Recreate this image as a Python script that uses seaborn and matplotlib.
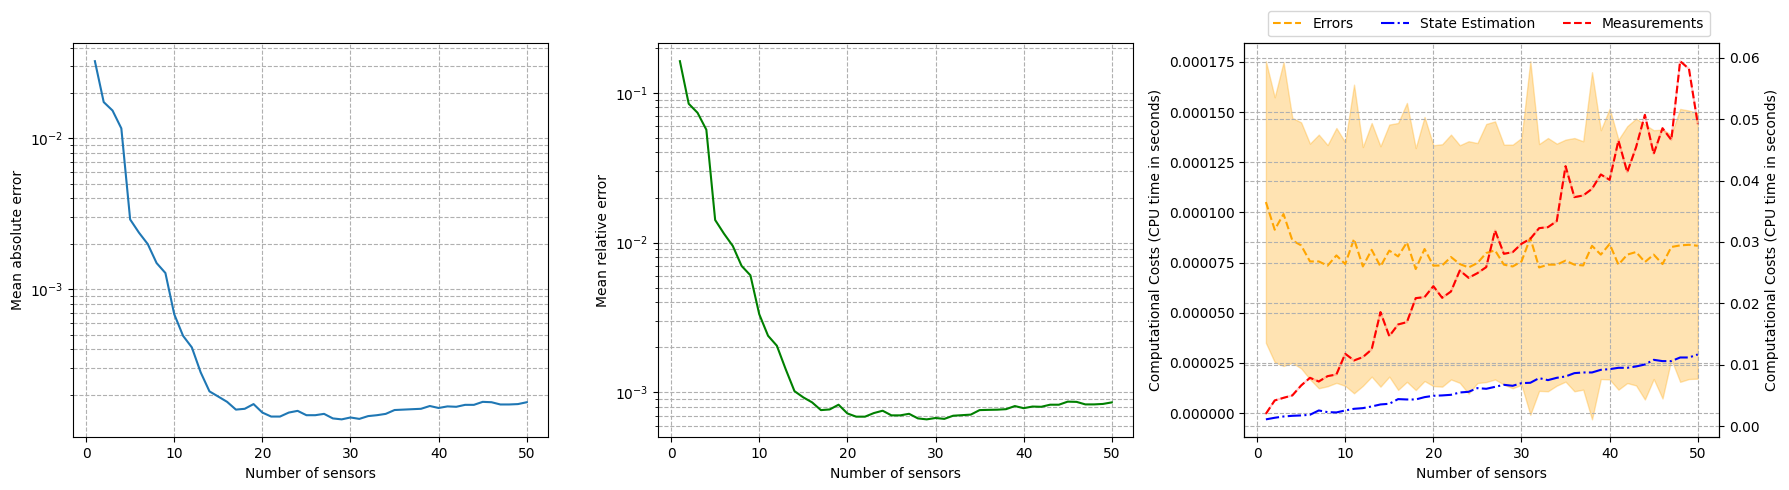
import numpy as np
import matplotlib
matplotlib.use("Agg")
import matplotlib.pyplot as plt
import seaborn as sns

# number of sensors on the x axis
sensors = np.arange(1, 51)

mean_abs_error = [0.0325, 0.0174, 0.0153, 0.01165, 0.0029, 0.00237, 0.00199, 0.00149, 0.00128, 0.000683,
                  0.000491, 0.000411, 0.000281, 0.00021, 0.000194, 0.000179, 0.000159, 0.000161, 0.000173, 0.000152,
                  0.000143, 0.000143, 0.000152, 0.000156, 0.000146, 0.000146, 0.000149, 0.000139, 0.000137, 0.000141,
                  0.000138, 0.000144, 0.000146, 0.000149, 0.000158, 0.000159, 0.00016, 0.000161, 0.000168, 0.000163,
                  0.000167, 0.000166, 0.000171, 0.000171, 0.000179, 0.000178, 0.000172, 0.000172, 0.000173, 0.000178]

mean_rel_error = [0.1626, 0.0845, 0.0736, 0.0567, 0.01416, 0.01148, 0.0095, 0.00699, 0.00605, 0.00333,
                  0.00239, 0.00205, 0.00143, 0.00102, 0.000927, 0.000858, 0.000762, 0.00077, 0.000828, 0.000724,
                  0.000689, 0.000689, 0.000728, 0.000755, 0.000703, 0.000703, 0.00072, 0.000671, 0.000661, 0.000675,
                  0.000666, 0.000699, 0.000705, 0.000711, 0.000762, 0.000765, 0.000767, 0.000773, 0.000811, 0.000785,
                  0.000805, 0.000802, 0.000828, 0.000828, 0.000868, 0.000865, 0.000832, 0.000832, 0.000838, 0.000858]

# CPU time for the error computation (mean and std, in 1e-5 s)
errors_mean = [10.52, 9.14, 9.92, 8.61, 8.36, 7.56, 7.56, 7.35, 7.86, 7.43,
               8.68, 7.31, 8.14, 7.31, 8.10, 7.81, 8.51, 7.18, 8.18, 7.35,
               7.36, 7.78, 7.43, 7.26, 7.48, 7.98, 8.11, 7.40, 7.31, 7.56,
               8.73, 7.26, 7.40, 7.40, 7.60, 7.40, 7.36, 8.34, 7.90, 8.43,
               7.40, 7.90, 8.03, 7.53, 7.90, 7.43, 8.28, 8.36, 8.39, 8.34]
errors_std = [7.02, 6.60, 7.57, 6.10, 6.13, 5.87, 6.32, 6.01, 6.35, 6.07,
              7.69, 5.95, 6.32, 5.99, 6.28, 6.65, 6.95, 6.03, 6.58, 6.00,
              6.04, 6.10, 5.92, 6.29, 5.98, 6.43, 6.43, 5.98, 6.07, 6.15,
              8.81, 6.15, 6.31, 6.03, 6.03, 6.31, 6.19, 8.65, 6.20, 6.75,
              6.23, 6.40, 6.65, 6.85, 6.20, 6.70, 5.60, 6.80, 6.69, 6.62]

state_estimation = [0.0011, 0.00136, 0.00157, 0.00168, 0.00174, 0.00185, 0.00255, 0.00228, 0.00223, 0.00255,
                    0.00282, 0.00293, 0.0032, 0.00353, 0.00364, 0.0044, 0.00434, 0.00434, 0.00472, 0.00494,
                    0.005, 0.0051, 0.00548, 0.00559, 0.00619, 0.00608, 0.0064, 0.00673, 0.00657, 0.007,
                    0.00706, 0.00782, 0.00749, 0.00787, 0.00809, 0.00863, 0.00874, 0.00874, 0.00917, 0.00928,
                    0.0095, 0.0095, 0.00972, 0.01004, 0.0108, 0.01059, 0.01059, 0.01118, 0.01118, 0.01167]

measurements = [0.00201, 0.00418, 0.00461, 0.005, 0.00662, 0.00787, 0.00727, 0.00814, 0.00841, 0.01178,
                0.0107, 0.01124, 0.01249, 0.01857, 0.01466, 0.01656, 0.01694, 0.02085, 0.02101, 0.0228,
                0.0209, 0.02193, 0.02535, 0.02416, 0.02492, 0.0259, 0.03187, 0.02807, 0.02834, 0.0297,
                0.03051, 0.03225, 0.03241, 0.03339, 0.04235, 0.0373, 0.03757, 0.03865, 0.04099, 0.04012,
                0.04653, 0.04137, 0.04544, 0.05071, 0.04435, 0.04853, 0.04663, 0.05945, 0.0582, 0.04924]

err_mean = np.array(errors_mean) * 1e-5
err_std = np.array(errors_std) * 1e-5

fig = plt.figure(figsize=(17.9, 4.9), dpi=100)
ax_abs = fig.add_axes([0.04095, 0.1076, 0.2654, 0.8041])
ax_rel = fig.add_axes([0.36777, 0.1076, 0.2654, 0.8041])
ax_cpu = fig.add_axes([0.69514, 0.1076, 0.2654, 0.8041])

# Mean absolute error
sns.lineplot(x=sensors, y=mean_abs_error, ax=ax_abs, color="tab:blue")
ax_abs.set_yscale("log")
ax_abs.grid(True, which="both", linestyle="--")
ax_abs.set_xlabel("Number of sensors")
ax_abs.set_ylabel("Mean absolute error")

# Mean relative error
sns.lineplot(x=sensors, y=mean_rel_error, ax=ax_rel, color="green")
ax_rel.set_yscale("log")
ax_rel.grid(True, which="both", linestyle="--")
ax_rel.set_xlabel("Number of sensors")
ax_rel.set_ylabel("Mean relative error")

# computational costs
sns.lineplot(x=sensors, y=err_mean, ax=ax_cpu, color="orange", linestyle="--", label="Errors")
ax_cpu.fill_between(sensors, err_mean - err_std, err_mean + err_std, color="orange", alpha=0.3)
ax_cpu.grid(True, linestyle="--")
ax_cpu.set_xlabel("Number of sensors")
ax_cpu.set_ylabel("Computational Costs (CPU time in seconds)")

ax_twin = ax_cpu.twinx()
sns.lineplot(x=sensors, y=state_estimation, ax=ax_twin, color="blue", linestyle="-.", label="State Estimation")
# faint line under the red dashes
ax_twin.plot(sensors, measurements, color="red", alpha=0.2, linewidth=1.5)
sns.lineplot(x=sensors, y=measurements, ax=ax_twin, color="red", linestyle="--", label="Measurements")
ax_twin.grid(True, linestyle="--")
ax_twin.set_ylabel("Computational Costs (CPU time in seconds)")

for a in (ax_cpu, ax_twin):
    if a.get_legend() is not None:
        a.get_legend().remove()

h1, l1 = ax_cpu.get_legend_handles_labels()
h2, l2 = ax_twin.get_legend_handles_labels()
ax_twin.legend(h1 + h2, l1 + l2, loc="lower center", bbox_to_anchor=(0.515, 1.0), ncol=3)

fig.savefig("out.png", dpi=100)
